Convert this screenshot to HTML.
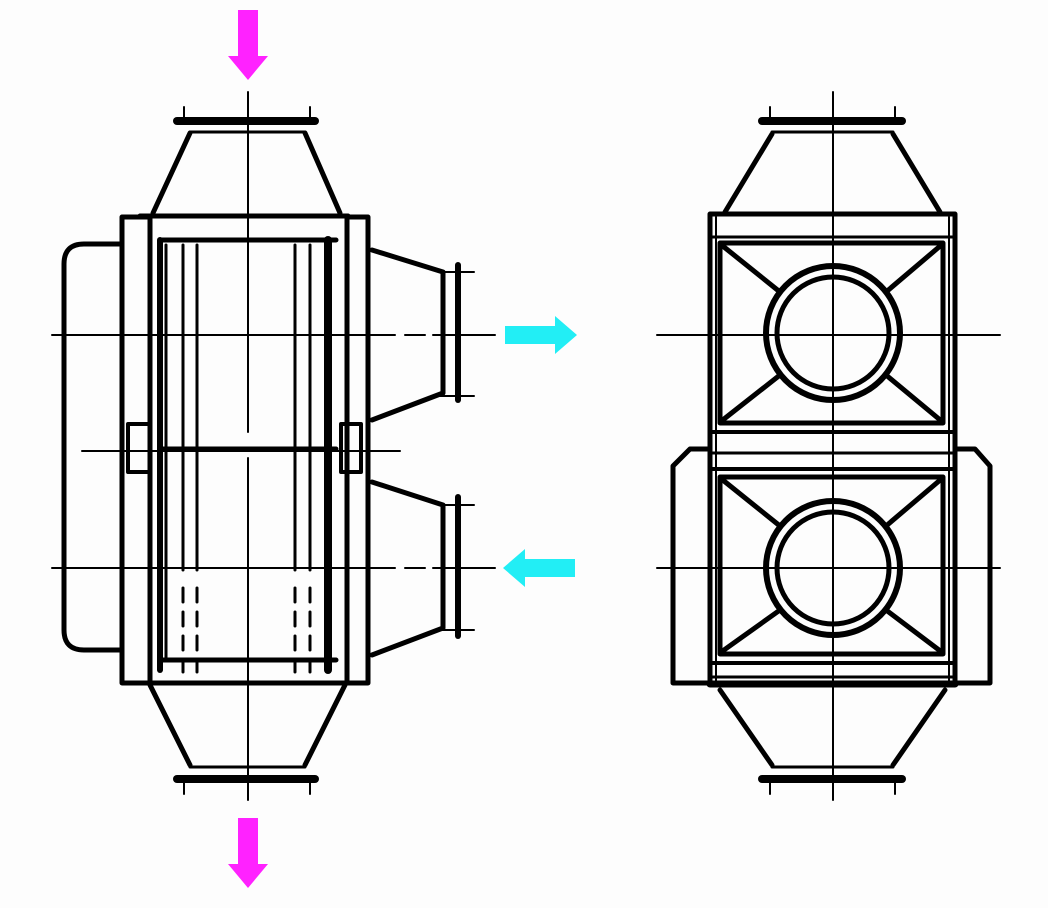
<!DOCTYPE html>
<html><head><style>html,body{margin:0;padding:0;background:#fff}svg{display:block}</style></head>
<body>
<svg width="1048" height="908" viewBox="0 0 1048 908" xmlns="http://www.w3.org/2000/svg" fill="none" stroke="#000" stroke-linecap="round" stroke-linejoin="round">
<rect width="1048" height="908" fill="#fdfdfd" stroke="none"/>
<!-- arrows -->
<g stroke="none">
<path d="M238,10 H258 V56 H268 L248,80 L228,56 H238 Z" fill="#ff22ff"/>
<path d="M238,818 H258 V864 H268 L248,888 L228,864 H238 Z" fill="#ff22ff"/>
<path d="M505,326 H555 V316 L577,335 L555,354 V344 H505 Z" fill="#22eef5"/>
<path d="M575,559 H525 V549 L503,568 L525,587 V577 H575 Z" fill="#22eef5"/>
</g>
<!-- LEFT VIEW -->
<g stroke-width="2">
<line x1="248" y1="92" x2="248" y2="432"/>
<line x1="248" y1="458" x2="248" y2="800"/>
<line x1="52" y1="335" x2="395" y2="335"/>
<line x1="405" y1="335" x2="425" y2="335"/><line x1="433" y1="335" x2="495" y2="335"/>
<line x1="82" y1="451" x2="400" y2="451"/>
<line x1="52" y1="568" x2="395" y2="568"/>
<line x1="405" y1="568" x2="425" y2="568"/><line x1="433" y1="568" x2="495" y2="568"/>
<line x1="440" y1="272" x2="474" y2="272"/><line x1="440" y1="396" x2="474" y2="396"/>
<line x1="440" y1="505" x2="474" y2="505"/><line x1="440" y1="630" x2="474" y2="630"/>
<line x1="184" y1="107" x2="184" y2="120"/><line x1="310" y1="107" x2="310" y2="120"/>
<line x1="184" y1="780" x2="184" y2="794"/><line x1="310" y1="780" x2="310" y2="794"/>
</g>
<g stroke-width="5">
<line x1="177" y1="121" x2="315" y2="121" stroke-width="8"/>
<line x1="190" y1="132" x2="305" y2="132" stroke-width="3"/>
<line x1="190" y1="133" x2="153" y2="213"/><line x1="305" y1="133" x2="340" y2="213"/>
<line x1="140" y1="216" x2="348" y2="216"/>
<rect x="122" y="217" width="28" height="466"/>
<rect x="347" y="217" width="21" height="466"/>
<path d="M122,244 H84 Q64,244 64,264 V630 Q64,650 84,650 H122"/>
<line x1="160" y1="240" x2="160" y2="670" stroke-width="6"/>
<line x1="328" y1="240" x2="328" y2="670" stroke-width="8"/>
<line x1="160" y1="240" x2="336" y2="240"/>
<line x1="160" y1="449" x2="336" y2="449"/>
<line x1="160" y1="660" x2="336" y2="660"/>
<line x1="140" y1="683" x2="350" y2="683"/>
<rect x="128" y="424" width="22" height="48" stroke-width="4"/>
<rect x="341" y="424" width="20" height="48" stroke-width="4"/>
<line x1="150" y1="685" x2="190" y2="765"/><line x1="345" y1="685" x2="305" y2="765"/>
<line x1="190" y1="767" x2="305" y2="767" stroke-width="3"/>
<line x1="177" y1="779" x2="315" y2="779" stroke-width="8"/>
<path d="M372,250 L443,272 V393 L372,420"/>
<path d="M372,482 L443,505 V628 L372,655"/>
<line x1="458" y1="265" x2="458" y2="400" stroke-width="6"/>
<line x1="458" y1="497" x2="458" y2="636" stroke-width="6"/>
</g>
<g stroke-width="3">
<line x1="166" y1="245" x2="166" y2="660"/>
<line x1="183" y1="245" x2="183" y2="570"/>
<line x1="197" y1="245" x2="197" y2="570"/>
<line x1="295" y1="245" x2="295" y2="570"/>
<line x1="310" y1="245" x2="310" y2="570"/>
<g stroke-dasharray="14,10">
<line x1="183" y1="588" x2="183" y2="672"/><line x1="197" y1="588" x2="197" y2="672"/>
<line x1="295" y1="588" x2="295" y2="672"/><line x1="310" y1="588" x2="310" y2="672"/>
</g>
</g>
<!-- RIGHT VIEW -->
<g stroke-width="2">
<line x1="833" y1="92" x2="833" y2="800"/>
<line x1="657" y1="335" x2="1000" y2="335"/>
<line x1="657" y1="568" x2="1000" y2="568"/>
<line x1="770" y1="107" x2="770" y2="120"/><line x1="895" y1="107" x2="895" y2="120"/>
<line x1="770" y1="780" x2="770" y2="794"/><line x1="895" y1="780" x2="895" y2="794"/>
</g>
<g stroke-width="5">
<line x1="762" y1="121" x2="902" y2="121" stroke-width="8"/>
<line x1="772" y1="132" x2="893" y2="132" stroke-width="3"/>
<line x1="772" y1="134" x2="725" y2="212"/><line x1="893" y1="134" x2="940" y2="212"/>
<rect x="710" y="214" width="245" height="470"/>
<line x1="710" y1="684" x2="955" y2="684" stroke-width="7"/>
<rect x="720" y="243" width="223" height="180"/>
<rect x="720" y="477" width="223" height="177"/>
<line x1="710" y1="237" x2="955" y2="237" stroke-width="3"/>
<line x1="710" y1="432" x2="955" y2="432" stroke-width="4"/>
<line x1="710" y1="453" x2="955" y2="453" stroke-width="3"/>
<line x1="710" y1="469" x2="955" y2="469" stroke-width="4"/>
<line x1="710" y1="663" x2="955" y2="663" stroke-width="4"/>
<line x1="710" y1="677" x2="955" y2="677" stroke-width="3"/>
<path d="M710,449 H690 L673,466 V683 H710"/>
<path d="M955,449 H975 L990,466 V683 H955"/>
<circle cx="833" cy="333" r="67" stroke-width="6"/>
<circle cx="833" cy="333" r="56" stroke-width="5"/>
<circle cx="833" cy="568" r="67" stroke-width="6"/>
<circle cx="833" cy="568" r="56" stroke-width="5"/>
<line x1="724" y1="247" x2="780" y2="292"/><line x1="939" y1="247" x2="886" y2="292"/>
<line x1="724" y1="419" x2="780" y2="375"/><line x1="939" y1="419" x2="886" y2="375"/>
<line x1="724" y1="481" x2="780" y2="526"/><line x1="939" y1="481" x2="886" y2="526"/>
<line x1="724" y1="650" x2="780" y2="610"/><line x1="939" y1="650" x2="886" y2="610"/>
<line x1="720" y1="690" x2="772" y2="765"/><line x1="945" y1="690" x2="893" y2="765"/>
<line x1="772" y1="767" x2="893" y2="767" stroke-width="3"/>
<line x1="762" y1="779" x2="902" y2="779" stroke-width="8"/>
</g>
<g stroke-width="2">
<line x1="716" y1="217" x2="716" y2="682"/><line x1="949" y1="217" x2="949" y2="682"/>
</g>
</svg>
</body></html>
